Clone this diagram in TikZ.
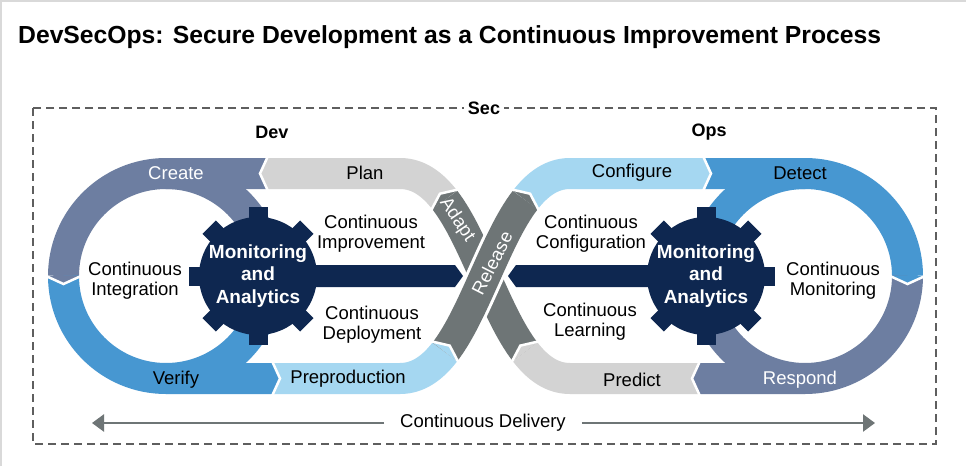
\documentclass[tikz,border=0pt]{standalone}
\usepackage{fontspec}
\setmainfont{Liberation Sans}
\usetikzlibrary{arrows.meta}
\definecolor{cslate}{HTML}{6D7EA1}
\definecolor{cblue}{HTML}{4797D1}
\definecolor{clgray}{HTML}{D3D3D3}
\definecolor{clblue}{HTML}{A5D7F1}
\definecolor{cdgray}{HTML}{6E7576}
\definecolor{cnavy}{HTML}{0E2750}
\definecolor{cbox}{HTML}{5E5E5E}
\definecolor{cframe}{HTML}{D9D9D9}
\newcommand{\bandchev}[4]{%
  \begin{scope}[shift={(#1,#2)},rotate=#3]
    \fill[#4] (0,15.5) -- (8,0) -- (0,-15.5) -- cycle;
    \draw[white,line width=2.5pt] (0,17.5) -- (8,0) -- (0,-17.5);
  \end{scope}}
\newcommand{\gearbody}[2]{%
  \begin{scope}[shift={(#1,#2)}]
    \fill[cnavy] (0,0) circle[radius=59];
    \foreach \a in {0,45,...,315}{\fill[cnavy,rotate=\a] (48,-9.5) rectangle (69,9.5);}
  \end{scope}}
\begin{document}
\begin{tikzpicture}[x=1pt,y=-1pt,
  band/.style={line width=31pt},
  lbl/.style={font=\fontsize{18.5}{20}\selectfont,inner sep=0pt,align=center},
  hdr/.style={font=\bfseries\fontsize{18}{20}\selectfont,inner sep=0pt},
  gearlbl/.style={font=\bfseries\fontsize{19}{22.5}\selectfont,text=white,align=center,inner sep=0pt}]
\fill[white] (0,0) rectangle (966,466);
\useasboundingbox (0,0) rectangle (966,466);
\draw[cframe,line width=1.5pt] (0.75,466) -- (0.75,0.75) -- (966,0.75);
\node[anchor=base west,font=\bfseries\fontsize{24.7}{30}\selectfont,inner sep=0pt] (title) at (18,43) {DevSecOps: Secure Development as a Continuous Improvement Process};
\draw[cbox,line width=1.5pt,dash pattern=on 8pt off 5pt] (33,108) rectangle (936,444);
\node[hdr,fill=white,inner xsep=4pt,inner ysep=2pt] (sec) at (484,108) {Sec};
\node[hdr] (dev) at (272,132) {Dev};
\node[hdr] (ops) at (709,132) {Ops};
% bands
\draw[band,cslate] (268,173.5) -- (166,173.5) .. controls (109.39,173.5) and (63.5,219.39) .. (63.5,276);
\draw[band,cslate] (166,173.5) .. controls (222.61,173.5) and (268.5,219.39) .. (268.5,276);
\draw[band,cblue] (63.5,276) .. controls (63.5,332.61) and (109.39,378.5) .. (166,378.5) -- (272,378.5);
\draw[band,cblue] (166,378.5) .. controls (222.61,378.5) and (268.5,332.61) .. (268.5,276);
\draw[band,clgray] (268,173.5) -- (400,173.5) .. controls (418,173.5) and (432.355,183.93) .. (444.8,200.05);
\draw[band,clblue] (272,378.5) -- (400,378.5) .. controls (418,378.5) and (432.355,368.07) .. (444.8,351.95);
\draw[band,cdgray] (444.8,200.05) .. controls (460,219.75) and (472.35,247.95) .. (485,276) .. controls (497.65,304.05) and (510,332.25) .. (525.2,351.95);
\draw[band,clgray] (525.2,351.95) .. controls (537.645,368.07) and (552,378.5) .. (570,378.5) -- (700,378.5);
\draw[band,clblue] (525.2,200.05) .. controls (537.645,183.93) and (552,173.5) .. (570,173.5) -- (703,173.5);
\draw[band,cblue] (703,173.5) -- (805,173.5) .. controls (861.61,173.5) and (907.5,219.39) .. (907.5,276);
\draw[band,cblue] (805,173.5) .. controls (748.39,173.5) and (702.5,219.39) .. (702.5,276);
\draw[band,cslate] (907.5,276) .. controls (907.5,332.61) and (861.61,378.5) .. (805,378.5) -- (700,378.5);
\draw[band,cslate] (805,378.5) .. controls (748.39,378.5) and (702.5,332.61) .. (702.5,276);
% bars
\fill[cnavy] (258,265) -- (455,265) -- (463,276) -- (455,287) -- (258,287) -- cycle;
\fill[cnavy] (706,265) -- (516,265) -- (508,276) -- (516,287) -- (706,287) -- cycle;
% release band over the crossing
\draw[line width=37pt,white] (444.8,351.95) .. controls (460,332.25) and (472.35,304.05) .. (485,276) .. controls (497.65,247.95) and (510,219.75) .. (525.2,200.05);
\draw[band,cdgray] (444.8,351.95) .. controls (460,332.25) and (472.35,304.05) .. (485,276) .. controls (497.65,247.95) and (510,219.75) .. (525.2,200.05);
% chevrons
\bandchev{268}{173.5}{180}{clgray}
\bandchev{63.5}{276}{-90}{cslate}
\bandchev{272}{378.5}{0}{cblue}
\bandchev{444.8}{351.95}{52.3}{clblue}
\bandchev{525.2}{200.05}{52.3}{cdgray}
\bandchev{703}{173.5}{0}{clblue}
\bandchev{907.5}{276}{-90}{cblue}
\bandchev{700}{378.5}{180}{cslate}
\bandchev{525.2}{351.95}{127.6}{clgray}
\bandchev{444.8}{200.05}{127.6}{cdgray}
% gears
\gearbody{258}{276}
\gearbody{706}{276}
\node[gearlbl] (gearL) at (258,276) {Monitoring\\and\\Analytics};
\node[gearlbl] (gearR) at (706,276) {Monitoring\\and\\Analytics};
% band labels
\node[lbl,text=white] (create) at (176,173) {Create};
\node[lbl] (plan) at (365,173) {Plan};
\node[lbl] (verify) at (176,380) {Verify};
\node[lbl] (prep) at (348,379) {Preproduction};
\node[lbl] (conf) at (632,173) {Configure};
\node[lbl] (detect) at (800,173) {Detect};
\node[lbl,text=white] (respond) at (800,380) {Respond};
\node[lbl] (predict) at (632,380) {Predict};
\node[lbl,text=white,rotate=-56] (adapt) at (457,220) {Adapt};
\node[lbl,text=white,rotate=63] (release) at (492,263) {Release};
% inner labels
\node[lbl] (ci) at (135,281) {Continuous\\Integration};
\node[lbl] (cimp) at (371,234) {Continuous\\Improvement};
\node[lbl] (cdep) at (372,325) {Continuous\\Deployment};
\node[lbl] (cconf) at (591,234) {Continuous\\Configuration};
\node[lbl] (clearn) at (590,322) {Continuous\\Learning};
\node[lbl] (cmon) at (833,281) {Continuous\\Monitoring};
% continuous delivery
\node[lbl,inner xsep=16pt] (cd) at (483,423) {Continuous Delivery};
\coordinate (cdl) at (92,423);
\coordinate (cdr) at (875,423);
\draw[cdgray,line width=2.5pt,-{Triangle[length=12pt,width=17pt]}] (cd) -- (cdl);
\draw[cdgray,line width=2.5pt,-{Triangle[length=12pt,width=17pt]}] (cd) -- (cdr);
\end{tikzpicture}
\end{document}
